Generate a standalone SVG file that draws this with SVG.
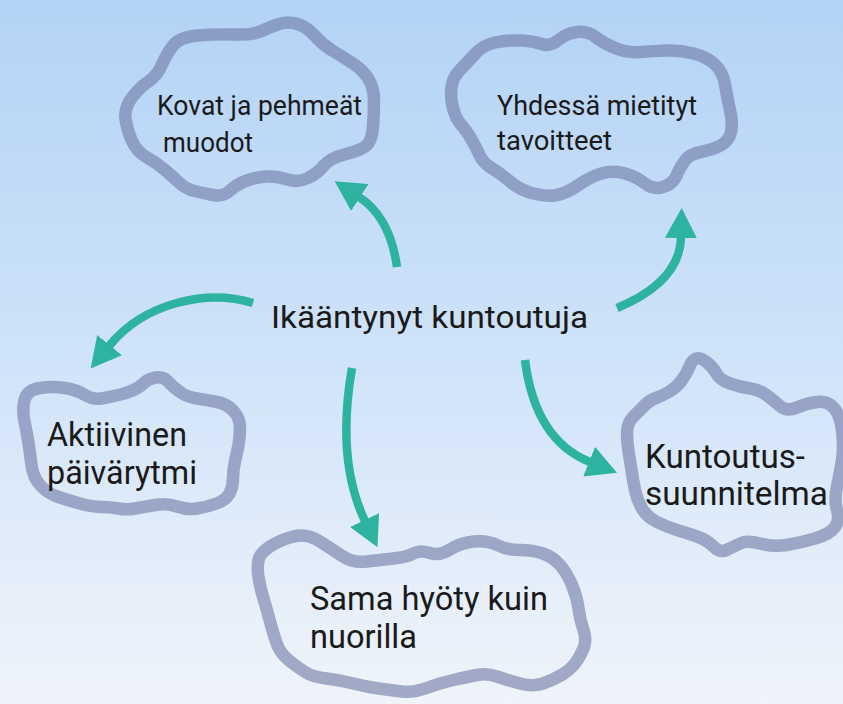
<svg xmlns="http://www.w3.org/2000/svg" width="843" height="704" viewBox="0 0 843 704">
  <defs>
    <linearGradient id="bg" x1="0" y1="0" x2="0" y2="1">
      <stop offset="0" stop-color="#b3d3f6"/>
      <stop offset="0.5" stop-color="#cfe3f9"/>
      <stop offset="1" stop-color="#f0f4fa"/>
    </linearGradient>
    <marker id="head" viewBox="0 -16 30 32" refX="1" refY="0" markerWidth="30" markerHeight="32" markerUnits="userSpaceOnUse" orient="auto">
      <path d="M0,-16 L30,0 L0,16 Z" fill="#2db3a0"/>
    </marker>
  </defs>
  <style>
    .cloud { fill: none; stroke: rgb(110,120,165); stroke-opacity: 0.6; stroke-width: 12.5; stroke-linejoin: round; }
    .link { fill: none; stroke: #2db3a0; stroke-width: 8.5; marker-end: url(#head); }
    text { font-family: Roboto, "Open Sans", "Liberation Sans", sans-serif; fill: #1a1a1a; }
  </style>

  <rect x="0" y="0" width="843" height="704" fill="url(#bg)"/>

  <g id="connectors">
    <path class="link" d="M397,267 Q390,217 359,197"/>
    <path class="link" d="M253,303 C208,289 145,302 109,346"/>
    <path class="link" d="M617,308 Q680,282 681,237"/>
    <path class="link" d="M352,368 Q336,460 365,521"/>
    <path class="link" d="M525,360 Q535,440 590,462"/>
  </g>

  <g id="center">
    <text x="271" y="328" font-size="32" textLength="317" lengthAdjust="spacingAndGlyphs">Ikääntynyt kuntoutuja</text>
  </g>

  <g id="muodot">
    <path class="cloud" d="M173.5,45 Q180,37 197.5,35.5 Q215,34 234,34.5 Q253,35 261.5,31 Q270,27 279,24 Q288,21 297.5,24 Q307,27 315,36 Q323,45 333,51 Q343,57 353,63.5 Q363,70 368.5,79 Q374,88 374,100.5 Q374,113 373,126.5 Q372,140 367,145 Q362,150 346,154 Q330,158 324,165.5 Q318,173 308,178 Q298,183 287.5,179.5 Q277,176 267,176.5 Q257,177 247,180.5 Q237,184 230,190.5 Q223,197 213,195 Q203,193 194.5,191 Q186,189 179.5,183 Q173,177 165,170 Q157,163 147,157.5 Q137,152 132,141 Q127,130 125.5,119 Q124,108 132,97.5 Q140,87 148.5,81.5 Q157,76 162,64.5 Q167,53 173.5,45 Z"/>
    <text x="157" y="115" font-size="27" textLength="205" lengthAdjust="spacingAndGlyphs">Kovat ja pehmeät</text>
    <text x="163" y="152" font-size="27" textLength="90" lengthAdjust="spacingAndGlyphs">muodot</text>
  </g>

  <g id="tavoitteet">
    <path class="cloud" d="M475,54 Q483,45 495,42.5 Q507,40 520,40.5 Q533,41 541.5,44 Q550,47 558.5,40 Q567,33 577.5,32 Q588,31 595.5,37 Q603,43 615,48 Q627,53 640,52 Q653,51 666.5,50.5 Q680,50 693.5,53.5 Q707,57 715,64.5 Q723,72 725,84.5 Q727,97 730,110 Q733,123 731,132 Q729,141 720.5,145.5 Q712,150 701,152 Q690,154 685,160.5 Q680,167 676.5,175.5 Q673,184 663,187 Q653,190 645,183.5 Q637,177 625,173.5 Q613,170 601.5,173.5 Q590,177 578.5,185 Q567,193 557,195 Q547,197 533.5,193.5 Q520,190 510,181.5 Q500,173 491.5,168 Q483,163 479.5,155 Q476,147 471,138.5 Q466,130 461,124.5 Q456,119 453,108 Q450,97 451.5,87 Q453,77 460,70 Q467,63 475,54 Z"/>
    <text x="497" y="115" font-size="28" textLength="200" lengthAdjust="spacingAndGlyphs">Yhdessä mietityt</text>
    <text x="497" y="150" font-size="28" textLength="115" lengthAdjust="spacingAndGlyphs">tavoitteet</text>
  </g>

  <g id="paivarytmi">
    <path class="cloud" d="M24.5,400 Q27,390 40,388 Q53,386 65,388 Q77,390 85,395 Q93,400 101.5,398.5 Q110,397 118.5,395 Q127,393 133.5,390 Q140,387 144,383 Q148,379 155.5,377.5 Q163,376 168,381.5 Q173,387 180,392 Q187,397 197,398.5 Q207,400 217,402 Q227,404 233.5,411 Q240,418 240,427.5 Q240,437 238.5,445 Q237,453 235,461.5 Q233,470 233,478.5 Q233,487 229.5,493.5 Q226,500 216.5,503.5 Q207,507 197,508.5 Q187,510 177,506.5 Q167,503 155,505 Q143,507 135,508.5 Q127,510 118.5,508.5 Q110,507 101.5,507 Q93,507 80,503.5 Q67,500 57,496.5 Q47,493 40,485 Q33,477 31.5,465 Q30,453 28.5,443 Q27,433 24.5,421.5 Q22,410 24.5,400 Z"/>
    <text x="47" y="446" font-size="33" textLength="140" lengthAdjust="spacingAndGlyphs">Aktiivinen</text>
    <text x="47" y="484" font-size="33" textLength="150" lengthAdjust="spacingAndGlyphs">päivärytmi</text>
  </g>

  <g id="suunnitelma">
    <path class="cloud" d="M696,358.5 Q700,357 706.5,362 Q713,367 716.5,373.5 Q720,380 730,383.5 Q740,387 750,388.5 Q760,390 766.5,395 Q773,400 780,406 Q787,412 797,407.5 Q807,403 817,402 Q827,401 833.5,407.5 Q840,414 842,430.5 Q844,447 842,460 Q840,473 837,486.5 Q834,500 837,510 Q840,520 835,527 Q830,534 815,538.5 Q800,543 786.5,545 Q773,547 760,543.5 Q747,540 740,543.5 Q733,547 726.5,550 Q720,553 713.5,546.5 Q707,540 697,536.5 Q687,533 677,530 Q667,527 657,522 Q647,517 642,508.5 Q637,500 635,490 Q633,480 631.5,470 Q630,460 628.5,451.5 Q627,443 627,433 Q627,423 633.5,416.5 Q640,410 645,405 Q650,400 656,398 Q662,396 669.5,391.5 Q677,387 682,380 Q687,373 689.5,366.5 Q692,360 696,358.5 Z"/>
    <text x="645" y="468" font-size="34" textLength="160" lengthAdjust="spacingAndGlyphs">Kuntoutus-</text>
    <text x="645" y="505" font-size="33" textLength="183" lengthAdjust="spacingAndGlyphs">suunnitelma</text>
  </g>

  <g id="hyoty">
    <path class="cloud" d="M258.5,560 Q260,553 270,546.5 Q280,540 293.5,536.5 Q307,533 320,541.5 Q333,550 343,556.5 Q353,563 366.5,561.5 Q380,560 393.5,558.5 Q407,557 413.5,553.5 Q420,550 430,553 Q440,556 450,549.5 Q460,543 473.5,541.5 Q487,540 497,545 Q507,550 520,550 Q533,550 543,553.5 Q553,557 560,565 Q567,573 572,585 Q577,597 578.5,608.5 Q580,620 583.5,630 Q587,640 583.5,648.5 Q580,657 575,663.5 Q570,670 561.5,675 Q553,680 543,683.5 Q533,687 520,683.5 Q507,680 497,676.5 Q487,673 477,675 Q467,677 453.5,680 Q440,683 426.5,688 Q413,693 401.5,691.5 Q390,690 378.5,688.5 Q367,687 353.5,683.5 Q340,680 326.5,678.5 Q313,677 305,672 Q297,667 288.5,660 Q280,653 276.5,643 Q273,633 270,621.5 Q267,610 263.5,598.5 Q260,587 258.5,577 Q257,567 258.5,560 Z"/>
    <text x="310" y="610" font-size="33" textLength="238" lengthAdjust="spacingAndGlyphs">Sama hyöty kuin</text>
    <text x="310" y="648" font-size="33" textLength="107" lengthAdjust="spacingAndGlyphs">nuorilla</text>
  </g>
</svg>
